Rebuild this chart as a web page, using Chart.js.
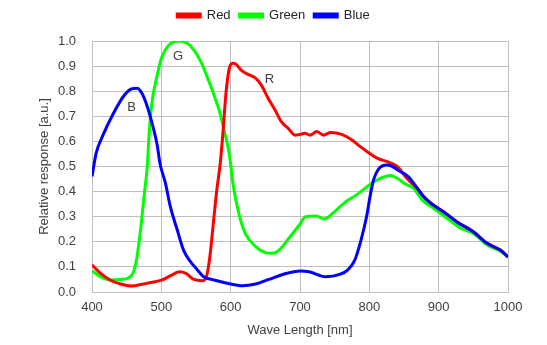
<!DOCTYPE html>
<html>
<head>
<meta charset="utf-8">
<script src="https://cdn.jsdelivr.net/npm/chart.js@4.4.1/dist/chart.umd.min.js"></script>
<style>
  html, body { margin: 0; padding: 0; background: #fff; }
  #wrap { width: 547px; height: 345px; }
</style>
</head>
<body>
<div id="wrap"><canvas id="spectrumChart"></canvas></div>
<script>
// wavelengths (nm) and relative response
const redNm = [400, 412, 426, 441, 457, 474, 491, 501, 513, 526, 535, 547, 559, 565, 570, 575, 580, 585, 589, 593, 598, 603, 608, 615, 625, 635, 644, 654, 664, 673, 683, 693, 700, 707, 715, 724, 734, 744, 760, 775, 787, 800, 811, 825, 840, 854, 869, 881, 892, 907, 926, 950, 970, 989, 1000];
const redVal = [0.108, 0.075, 0.048, 0.032, 0.024, 0.032, 0.041, 0.048, 0.064, 0.081, 0.075, 0.05, 0.045, 0.061, 0.141, 0.274, 0.406, 0.513, 0.639, 0.785, 0.891, 0.911, 0.907, 0.884, 0.867, 0.854, 0.825, 0.772, 0.725, 0.679, 0.652, 0.625, 0.628, 0.632, 0.625, 0.639, 0.625, 0.635, 0.628, 0.606, 0.579, 0.553, 0.533, 0.52, 0.50, 0.453, 0.413, 0.373, 0.347, 0.32, 0.28, 0.24, 0.194, 0.167, 0.14];

const greenNm = [400, 412, 426, 441, 453, 460, 465, 470, 475, 480, 482, 486, 493, 501, 511, 525, 538, 547, 557, 566, 576, 584, 591, 598, 604, 612, 621, 636, 650, 660, 670, 684, 699, 708, 723, 735, 747, 766, 781, 800, 811, 823, 831, 840, 852, 864, 876, 893, 912, 932, 951, 970, 990, 1000];
const greenVal = [0.085, 0.061, 0.048, 0.05, 0.057, 0.081, 0.141, 0.247, 0.38, 0.51, 0.612, 0.745, 0.851, 0.938, 0.984, 1.0, 0.99, 0.964, 0.918, 0.858, 0.785, 0.719, 0.639, 0.55, 0.42, 0.31, 0.234, 0.181, 0.157, 0.154, 0.167, 0.214, 0.267, 0.30, 0.303, 0.291, 0.313, 0.36, 0.386, 0.426, 0.446, 0.46, 0.464, 0.453, 0.43, 0.413, 0.367, 0.333, 0.294, 0.254, 0.231, 0.187, 0.161, 0.137];

const blueNm = [400, 406, 416, 431, 445, 457, 465, 472, 479, 486, 494, 498, 506, 513, 523, 532, 542, 552, 561, 576, 595, 617, 636, 655, 675, 701, 713, 737, 757, 769, 779, 788, 796, 801, 806, 813, 825, 832, 842, 856, 866, 878, 892, 907, 926, 950, 970, 989, 1000];
const blueVal = [0.46, 0.553, 0.626, 0.712, 0.778, 0.809, 0.812, 0.792, 0.745, 0.679, 0.586, 0.513, 0.433, 0.34, 0.247, 0.167, 0.121, 0.088, 0.061, 0.048, 0.035, 0.025, 0.032, 0.05, 0.07, 0.084, 0.081, 0.061, 0.07, 0.088, 0.127, 0.207, 0.30, 0.38, 0.446, 0.489, 0.506, 0.502, 0.484, 0.46, 0.426, 0.38, 0.347, 0.32, 0.28, 0.24, 0.194, 0.167, 0.14];

const xTicks = [400, 500, 600, 700, 800, 900, 1000];

// curve labels inside the plot: [text, nm, value]
const curveLabels = [['B', 457, 0.735], ['G', 524, 0.94], ['R', 656, 0.847]];

const FONT = "'Liberation Sans', Arial, sans-serif";
const TEXT = '#404040';
const GRID = '#bfbfbf';

const toPoints = (xs, ys) => xs.map((x, i) => ({ x: x, y: ys[i] }));

const curveText = {
  id: 'curveText',
  afterDatasetsDraw(chart) {
    const { ctx, scales } = chart;
    ctx.save();
    ctx.font = '13px ' + FONT;
    ctx.fillStyle = TEXT;
    ctx.textAlign = 'center';
    ctx.textBaseline = 'middle';
    curveLabels.forEach(([t, nm, v]) => {
      ctx.fillText(t, scales.x.getPixelForValue(nm), scales.y.getPixelForValue(v));
    });
    ctx.restore();
  }
};

const ctx = document.getElementById('spectrumChart');
new Chart(ctx, {
  type: 'line',
  data: {
    datasets: [
      { label: 'Red', data: toPoints(redNm, redVal), borderColor: '#ff0000', backgroundColor: '#ff0000', order: 1 },
      { label: 'Green', data: toPoints(greenNm, greenVal), borderColor: '#00ff00', backgroundColor: '#00ff00', order: 2 },
      { label: 'Blue', data: toPoints(blueNm, blueVal), borderColor: '#0000ff', backgroundColor: '#0000ff', order: 0 },
    ],
  },
  options: {
    responsive: true,
    maintainAspectRatio: false,
    animation: false,
    layout: { padding: 0 },
    elements: {
      point: { radius: 0 },
      line: { borderWidth: 3, cubicInterpolationMode: 'monotone', fill: false },
    },
    scales: {
      x: {
        type: 'linear',
        min: 400,
        max: 1000,
        afterBuildTicks: (scale) => { scale.ticks = xTicks.map(v => ({ value: v })); },
        afterFit: (scale) => { scale.height = 53; scale.paddingRight = 39; },
        ticks: { color: TEXT, font: { family: FONT, size: 13 }, padding: 8, maxRotation: 0, callback: (v) => String(v) },
        grid: { color: GRID, drawTicks: false },
        border: { color: GRID },
        title: { display: true, text: 'Wave Length [nm]', color: TEXT, font: { family: FONT, size: 13 }, padding: { top: 4, bottom: 7 } },
      },
      y: {
        min: 0,
        max: 1,
        afterFit: (scale) => { scale.width = 92; },
        ticks: { stepSize: 0.1, color: TEXT, font: { family: FONT, size: 13 }, padding: 16, callback: (v) => v.toFixed(1) },
        grid: { color: GRID, drawTicks: false },
        border: { color: GRID },
        title: { display: true, text: 'Relative response [a.u.]', color: TEXT, font: { family: FONT, size: 13 }, padding: { top: 37, bottom: 4 } },
      },
    },
    plugins: {
      legend: {
        position: 'top',
        labels: {
          boxWidth: 23, boxHeight: 3, padding: 9, color: '#262626', font: { family: FONT, size: 13 },
          sort: (a, b) => a.datasetIndex - b.datasetIndex,
        },
      },
      // empty spacer between legend and plot
      title: { display: true, text: '', weight: 100, font: { size: 1, lineHeight: 1 }, padding: { top: 8, bottom: 0 } },
      tooltip: { enabled: false },
    },
  },
  plugins: [curveText],
});
</script>
</body>
</html>
